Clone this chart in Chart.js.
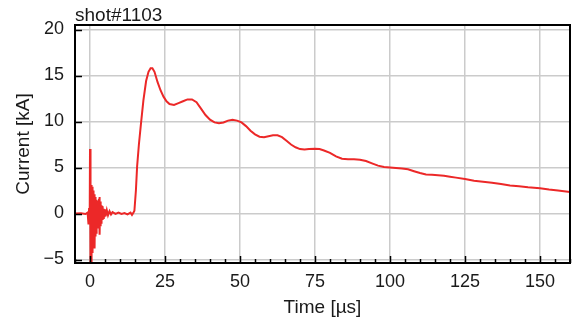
<!DOCTYPE html>
<html>
<head>
<meta charset="utf-8">
<script src="https://cdn.jsdelivr.net/npm/chart.js@4/dist/chart.umd.min.js"></script>
<style>
    html, body { margin: 0; padding: 0; background: #fff; }
    canvas { display: block; }
</style>
</head>
<body>
<canvas id="shotChart" width="573" height="325"></canvas>
<script>
// time axis [µs] and current [kA]
const timeUs = [
    -5, -3, -1.5, -0.8, -0.5, -0.3, -0.1,
    0.00, 0.05, 0.10, 0.15, 0.20, 0.25, 0.30, 0.35, 0.40, 0.45, 0.50, 0.55, 0.60,
    0.65, 0.70, 0.75, 0.80, 0.85, 0.90, 0.95, 1.00, 1.05, 1.10, 1.15, 1.20, 1.25,
    1.30, 1.35, 1.40, 1.45, 1.50, 1.55, 1.60, 1.65, 1.70, 1.75, 1.80, 1.85, 1.90,
    1.95, 2.00, 2.10, 2.20, 2.30, 2.40, 2.50, 2.60, 2.70, 2.80, 2.90, 3.00, 3.10,
    3.20, 3.30, 3.40, 3.50, 3.60, 3.70, 3.80, 3.90, 4.00, 4.15, 4.30, 4.45, 4.60,
    4.80, 5.00, 5.20, 5.60, 6.0, 6.5, 7.0, 7.5, 8.5, 9.5, 10.5, 11.5, 12.5, 13.5,
    14.0, 14.5,
    14.8, 15.3, 15.7, 16.3, 17.0, 17.8, 18.7, 19.5, 20.2, 20.8, 21.5, 22.5, 23.5,
    24.5, 25.5, 26.5, 28.0, 29.5, 31.0, 32.5, 34.0, 35.5, 37.0, 38.5, 40.0, 41.5,
    43.0, 44.5, 46.0, 47.5, 49.0, 50.5, 52.0, 53.5, 55.0, 56.5, 58.0, 59.5, 61.0,
    62.5, 64.0, 65.5, 67.0, 68.5, 70.0, 71.5, 73.0, 75.0, 76.5, 78.0, 80.0, 82.0,
    84.0, 86.0, 88.0, 90.0, 92.0, 94.0, 96.0, 98.0, 100, 102, 104, 106, 108, 110,
    112, 114, 116, 118, 120, 122, 125, 128, 131, 134, 137, 140, 143, 146, 150,
    153, 156, 160
];
const currentKA = [
    0.0, 0.02, -0.05, 0.1, -1.2, 0.6, -0.4,
    7.0, -5.4, 3.4, -5.4, 3.0, -5.0, 3.3, -5.4, 2.8, -4.4, 3.1, -5.2, 2.6,
    -3.9, 2.9, -4.3, 2.4, -3.4, 2.7, -3.0, 2.2, -3.3, 2.5, -2.6, 2.0, -2.9,
    2.3, -2.4, 1.9, -3.0, 2.1, -3.6, 1.7, -3.8, 1.8, -2.5, 1.5, -2.1, 1.7,
    -1.9, 1.4, -2.2, 1.5, -1.7, 1.3, -1.5, 1.4, -1.3, 1.2, -1.6, 1.6, -2.0,
    1.8, -2.3, 1.3, -1.4, 1.0, -1.0, 0.9, -0.8, 0.8, -0.7, 0.6, -0.5, 0.5,
    -0.4, 0.45, -0.3, 0.35, -0.2, 0.25, -0.1, 0.15, -0.05, 0.1, -0.05, 0.05, -0.1, 0.1,
    -0.15, 0.1,
    0.3, 2.5, 5.1, 7.5, 9.8, 12.3, 14.4, 15.4, 15.8, 15.8, 15.4, 14.3, 13.4,
    12.7, 12.2, 11.9, 11.8, 12.0, 12.2, 12.4, 12.4, 12.1, 11.4, 10.7, 10.2, 9.9,
    9.8, 9.9, 10.1, 10.2, 10.1, 9.9, 9.5, 9.0, 8.6, 8.35, 8.3, 8.4, 8.5,
    8.5, 8.3, 7.9, 7.5, 7.2, 7.0, 6.95, 7.0, 7.05, 7.0, 6.85, 6.6, 6.2,
    5.95, 5.9, 5.9, 5.85, 5.7, 5.45, 5.2, 5.05, 5.0, 4.95, 4.9, 4.8, 4.6, 4.4,
    4.25, 4.2, 4.15, 4.1, 4.0, 3.9, 3.75, 3.55, 3.45, 3.35, 3.2, 3.05, 2.95, 2.85, 2.75,
    2.6, 2.5, 2.35
];
const xTicks = [0, 25, 50, 75, 100, 125, 150];
const xMinorTicks = [-5, 5, 10, 15, 20, 30, 35, 40, 45, 55, 60, 65, 70, 80, 85, 90, 95,
    105, 110, 115, 120, 130, 135, 140, 145, 155, 160];
const yTicks = [-5, 0, 5, 10, 15, 20];

const lineColor = "#ec2828";
const gridColor = "#cbcbcb";
const textColor = "#1a1a1a";
const fontFamily = "'Liberation Sans', Arial, sans-serif";

// title, black frame and inward ticks (matplotlib style)
const frameTicks = {
    id: "frameTicks",
    afterDraw(chart) {
        const c = chart.ctx;
        const a = chart.chartArea;
        const xs = chart.scales.x, ys = chart.scales.y;
        c.save();
        c.strokeStyle = "#000";
        c.lineWidth = 1.5;
        c.beginPath();
        xTicks.forEach(v => {
            const px = Math.round(xs.getPixelForValue(v)) + 0.5;
            c.moveTo(px, a.bottom); c.lineTo(px, a.bottom - 7);
        });
        xMinorTicks.forEach(v => {
            const px = Math.round(xs.getPixelForValue(v)) + 0.5;
            c.moveTo(px, a.bottom); c.lineTo(px, a.bottom - 4);
        });
        yTicks.forEach(v => {
            const py = Math.round(ys.getPixelForValue(v)) + 0.5;
            c.moveTo(a.left, py); c.lineTo(a.left + 7, py);
        });
        c.stroke();

        c.lineWidth = 2;
        c.strokeRect(a.left, a.top, a.right - a.left, a.bottom - a.top);

        c.fillStyle = textColor;
        c.font = "19px " + fontFamily;
        c.textAlign = "left";
        c.textBaseline = "alphabetic";
        c.fillText("shot#1103", a.left, 21);
        c.restore();
    }
};

const minusSign = v => String(v).replace("-", "\u2212");

const ctx = document.getElementById("shotChart").getContext("2d");
new Chart(ctx, {
    type: "line",
    data: {
        datasets: [{
            data: timeUs.map((t, i) => ({ x: t, y: currentKA[i] })),
            borderColor: lineColor,
            borderWidth: 2,
            pointRadius: 0,
            tension: 0,
            fill: false
        }]
    },
    options: {
        responsive: false,
        animation: false,
        layout: { padding: { top: 25, right: 3, left: 0, bottom: 0 } },
        plugins: {
            legend: { display: false },
            tooltip: { enabled: false }
        },
        scales: {
            x: {
                type: "linear",
                min: -5,
                max: 160,
                afterBuildTicks: s => { s.ticks = xTicks.map(v => ({ value: v })); },
                afterFit: s => { s.height = 62; },
                grid: { color: gridColor, lineWidth: 1.5, drawTicks: false },
                border: { display: false },
                ticks: {
                    padding: 8,
                    color: textColor,
                    maxRotation: 0,
                    callback: minusSign,
                    font: { family: fontFamily, size: 18 }
                },
                title: {
                    display: true,
                    text: "Time [µs]",
                    color: textColor,
                    font: { family: fontFamily, size: 19 },
                    padding: { top: 0, bottom: 6 }
                }
            },
            y: {
                type: "linear",
                min: -5.38,
                max: 20.49,
                afterBuildTicks: s => { s.ticks = yTicks.map(v => ({ value: v })); },
                afterFit: s => { s.width = 75; },
                grid: { color: gridColor, lineWidth: 1.5, drawTicks: false },
                border: { display: false },
                ticks: {
                    padding: 11,
                    color: textColor,
                    callback: minusSign,
                    font: { family: fontFamily, size: 18 }
                },
                title: {
                    display: true,
                    text: "Current [kA]",
                    color: textColor,
                    font: { family: fontFamily, size: 19 },
                    padding: { top: 12, bottom: 0 }
                }
            }
        }
    },
    plugins: [frameTicks]
});
</script>
</body>
</html>
